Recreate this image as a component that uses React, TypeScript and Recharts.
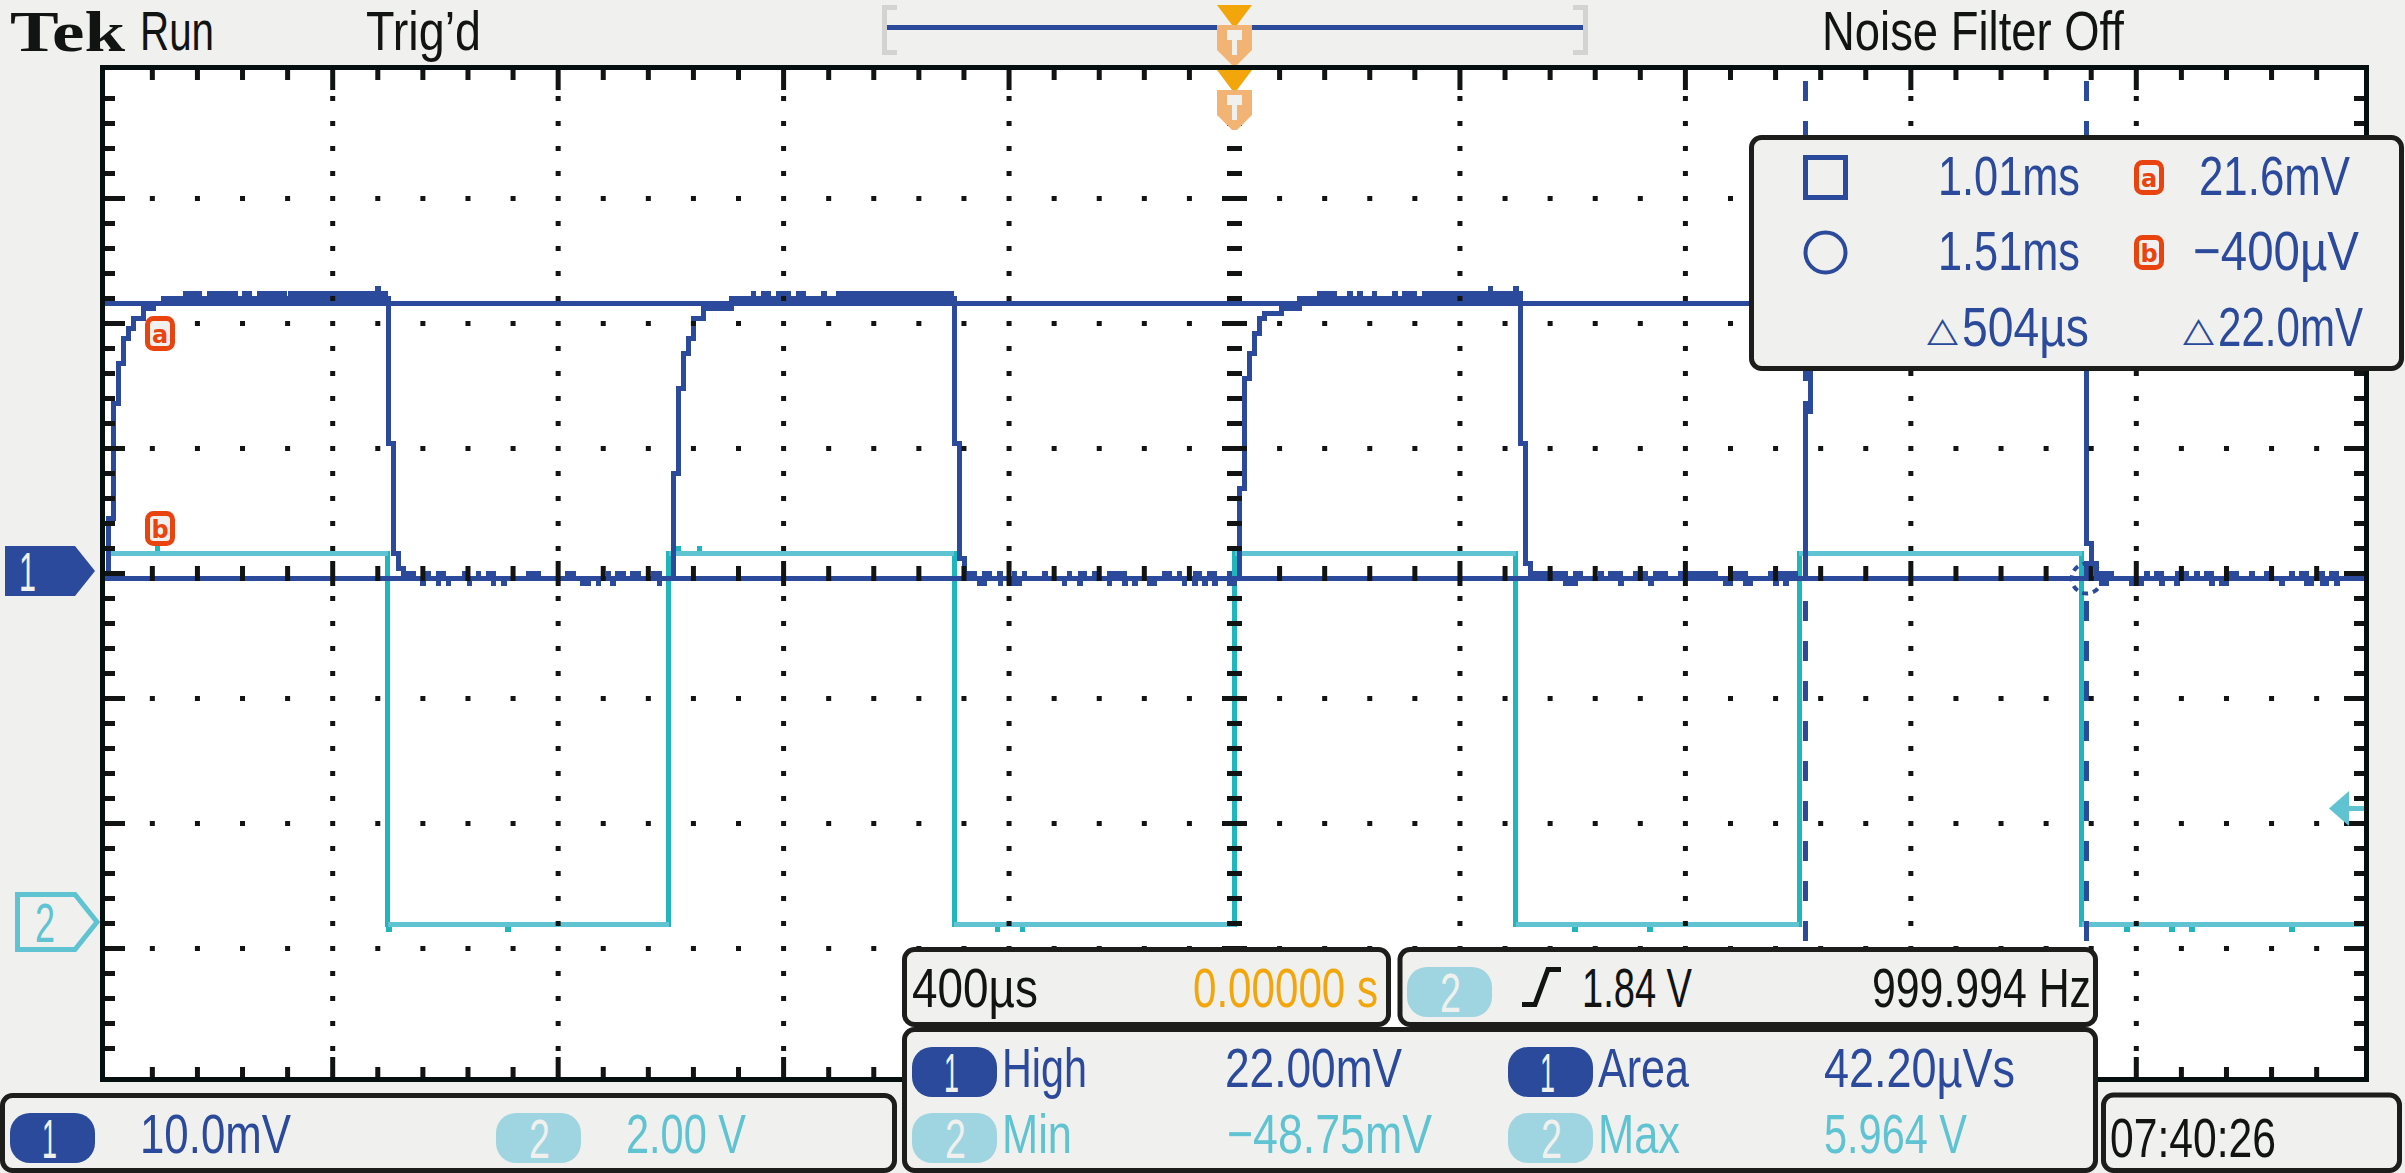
import { ComposedChart, Line, Scatter, XAxis, YAxis, CartesianGrid, ReferenceLine, ReferenceDot } from 'recharts'

const W = 2405
const H = 1173
const LEFT = 105
const RIGHT = 2364
const TOP = 70
const BOTTOM = 1077

const BG = '#f0f0ee'
const INK = '#111412'
const FRAME = '#050f0f'
const BLUE = '#2b4a9b'
const CYAN = '#5fc3d2'
const TEAL = '#1fb6bd'
const PALE = '#9fd5e0'
const RED = '#e9430f'
const ORANGE = '#f2a60c'
const PEACH = '#f2b475'
const NARROW = '"Liberation Sans Narrow", "Liberation Sans", sans-serif'

// 400 us/div and 10 mV/div, trigger in the middle of the screen
const timeDivs = [-2000, -1600, -1200, -800, -400, 0, 400, 800, 1200, 1600, 2000]
const mvDivs = [-40, -30, -20, -10, 0, 10, 20, 30, 40]
const timeDomain = [-2004, 2004]
const mvDomain = [-40.28, 40.28]
const voltDomain = [-2.44, 13.672]

const timeMinor = timeDivs.slice(0, -1).flatMap((t) => [t, t + 80, t + 160, t + 240, t + 320]).filter((t) => t !== -2000)
const mvMinor = mvDivs.slice(0, -1).flatMap((v) => [v, v + 2, v + 4, v + 6, v + 8]).filter((v) => v !== -40)

// channel 1, [us, mV]
const ch1Pulse1 = [
  [-2004, -0.4], [-2000, 0], [-1998, 4.4], [-1989, 13.6], [-1980, 16.8], [-1971, 18.8], [-1963, 19.6], [-1954, 20.4],
  [-1936, 21.2], [-1918, 21.6], [-1900, 22], [-1862, 22.4], [-1836, 22], [-1818, 22.4], [-1791, 22], [-1782, 22.4],
  [-1773, 22], [-1756, 22.4], [-1747, 22], [-1729, 22.4], [-1685, 22], [-1674, 22.4], [-1520, 22.8], [-1519, 22.4], [-1506, 22],
]
const ch1Low1 = [
  [-1501, 10.4], [-1492, 1.6], [-1484, 0.4], [-1474, 0], [-1457, -0.4], [-1440, -0.8], [-1439, -0.4], [-1431, 0], [-1430, -0.4],
  [-1413, -0.8], [-1412, 0], [-1403, -0.4], [-1395, -0.8], [-1394, -0.4], [-1367, 0], [-1366, -0.4], [-1358, -0.8], [-1357, -0.4],
  [-1342, 0], [-1341, -0.4], [-1324, 0], [-1315, -0.8], [-1314, -0.4], [-1297, -0.8], [-1296, -0.4], [-1253, 0], [-1235, -0.4],
  [-1183, 0], [-1173, -0.4], [-1156, -0.8], [-1146, -0.4], [-1129, -0.8], [-1128, -0.4], [-1111, 0], [-1110, -0.4], [-1103, -0.8],
  [-1102, -0.4], [-1094, 0], [-1084, -0.4], [-1068, 0], [-1058, -0.4], [-1031, 0], [-1021, -0.8], [-1020, -0.4],
]
const ch1Pulse2 = [
  [-996, 8], [-987, 14.8], [-978, 17.6], [-969, 18.8], [-960, 20.4], [-942, 21.2], [-893, 22], [-854, 22.4],
  [-853, 22], [-836, 22.4], [-827, 22], [-809, 22.4], [-791, 22], [-774, 22.4], [-765, 22], [-729, 22.4], [-728, 22], [-703, 22.4], [-502, 22],
]
const ch1Low2 = [
  [-497, 10.4], [-488, 1.2], [-479, 0], [-461, -0.4], [-452, -0.8], [-444, 0], [-435, -0.4], [-417, 0], [-416, -0.8], [-415, -0.4],
  [-399, -0.8], [-391, 0], [-390, -0.8], [-382, -0.4], [-373, 0], [-372, -0.4], [-337, 0], [-336, -0.4], [-302, -0.8], [-301, -0.4],
  [-293, 0], [-292, -0.4], [-275, -0.8], [-274, 0], [-266, -0.4], [-248, 0], [-247, -0.4], [-222, -0.8], [-221, 0], [-195, -0.8],
  [-194, -0.4], [-177, -0.8], [-176, -0.4], [-151, -0.8], [-142, -0.4], [-124, 0], [-115, -0.4], [-98, 0], [-97, -0.4], [-89, -0.8],
  [-88, -0.4], [-71, -0.8], [-70, 0], [-62, -0.4], [-53, -0.8], [-52, -0.4], [-44, 0], [-35, -0.8], [-34, -0.4], [-9, 0], [-8, -0.8], [0, -0.4],
]
const ch1Pulse3 = [
  [9, 6.8], [18, 15.6], [27, 17.6], [35, 19.2], [44, 20.4], [53, 20.8], [84, 21.2], [115, 22], [116, 21.6], [133, 22], [151, 22.4],
  [177, 22], [204, 22.4], [205, 22], [222, 22.4], [223, 22], [248, 22.4], [249, 22], [284, 22.4], [285, 22], [302, 22.4], [319, 22],
  [337, 22.4], [454, 22.8], [455, 22.4], [499, 22.8], [500, 22.4],
]
const ch1Low3 = [
  [507, 10.4], [516, 0.8], [525, 0], [587, -0.8], [605, 0], [614, -0.4], [650, 0], [651, -0.4], [667, 0], [685, -0.8], [686, -0.4],
  [712, 0], [729, -0.4], [738, -0.8], [739, -0.4], [747, 0], [765, -0.4], [791, 0], [854, -0.4], [871, -0.8], [880, 0], [907, -0.8],
  [916, -0.4], [951, 0], [960, -0.8], [961, 0], [978, -0.8], [979, 0], [995, -0.4],
]
const ch1Pulse4 = [[1013, 13], [1022, 16.6], [1031, 18.4], [1040, 20], [1058, 20.8], [1100, 21.6], [1140, 22], [1200, 22.4], [1500, 22]]
const ch1Low4 = [
  [1512, 2.4], [1521, 0.8], [1530, 0], [1538, -0.8], [1547, 0], [1556, -0.4], [1592, -0.8], [1610, -0.4], [1618, 0], [1619, -0.4],
  [1636, 0], [1645, -0.8], [1646, -0.4], [1672, -0.8], [1673, 0], [1689, -0.4], [1707, 0], [1708, -0.4], [1725, 0], [1734, -0.8],
  [1735, -0.4], [1751, -0.8], [1760, -0.4], [1769, 0], [1778, -0.4], [1805, 0], [1806, -0.4], [1831, 0], [1832, -0.4], [1858, -0.8],
  [1859, -0.4], [1876, 0], [1877, -0.4], [1893, 0], [1902, -0.8], [1911, -0.4], [1929, 0], [1930, -0.8], [1938, -0.4], [1947, 0],
  [1956, -0.8], [1957, -0.4], [2004, -0.4],
]
// lower edge of the band along the top of each pulse
const ch1TopFloor = [
  [-1900, 22], [-1503, 22], [-1503, null], [-893, 22], [-499, 22], [-499, null], [115, 22], [509, 22],
]

// channel 2, [us, V]
const ch2Trace = [
  [-1995, 5.936], [-1911, 6.016], [-1910, 5.936], [-1502, 0], [-1501, -0.08], [-1500, 0], [-1289, -0.08], [-1288, 0], [-1004, 5.936],
  [-987, 6.016], [-986, 5.936], [-950, 6.016], [-949, 5.936], [-497, 0], [-421, -0.08], [-420, 0], [-377, -0.08], [-376, 0],
  [0, 5.936], [499, 0], [604, -0.08], [605, 0], [737, -0.08], [738, 0], [1002, 5.936], [1503, 0], [1583, -0.08], [1584, 0],
  [1663, -0.08], [1664, 0], [1698, -0.08], [1699, 0], [1876, -0.08], [1877, 0], [2004, 0],
]
const ch2Plateaus = [
  [-1995, 5.936], [-1502, 5.936], [-1502, null], [-1502, 0], [-1004, 0], [-1004, null], [-1004, 5.936], [-497, 5.936], [-497, null],
  [-497, 0], [0, 0], [0, null], [0, 5.936], [499, 5.936], [499, null], [499, 0], [1002, 0], [1002, null], [1002, 5.936], [1503, 5.936],
  [1503, null], [1503, 0], [2004, 0],
]

const cursorTimes = [1013, 1512]
const cursorMv = [21.6, -0.4]

const rows = (pts: any[]) => pts.map(([t, v]) => ({ t, v }))
const ch1Data = rows([...ch1Pulse1, ...ch1Low1, ...ch1Pulse2, ...ch1Low2, ...ch1Pulse3, ...ch1Low3, ...ch1Pulse4, ...ch1Low4])
const ch1Floor = rows(ch1TopFloor)
const ch2Data = rows(ch2Trace)
const ch2Flat = rows(ch2Plateaus)

const isTimeDiv = (t: number) => t % 400 === 0
const isMvDiv = (v: number) => v % 10 === 0

const gridDots = [
  ...timeDivs.filter((t) => Math.abs(t) !== 2000 && t !== 0).flatMap((t) => mvMinor.filter((v) => v !== 0).map((v) => ({ t, v }))),
  ...mvDivs.filter((v) => Math.abs(v) !== 40 && v !== 0).flatMap((v) => timeMinor.filter((t) => !isTimeDiv(t)).map((t) => ({ t, v }))),
]
const centerRow = timeMinor.filter((t) => t !== 0).map((t) => ({ t, v: 0 }))
const centerCol = mvMinor.filter((v) => v !== 0).map((v) => ({ t: 0, v }))

const Dot = ({ cx, cy }: any) => <rect x={cx - 2.5} y={cy - 2.5} width={5} height={5} fill={INK} />
const RowTick = ({ cx, cy, payload }: any) => {
  const h = isTimeDiv(payload.t) ? 25 : 15
  return <rect x={cx - 2.5} y={cy - h / 2} width={5} height={h} fill={INK} />
}
const ColTick = ({ cx, cy, payload }: any) => {
  const w = isMvDiv(payload.v) ? 25 : 15
  return <rect x={cx - w / 2} y={cy - 2.5} width={w} height={5} fill={INK} />
}
const TopTick = ({ x, payload }: any) => <rect x={x - 2.5} y={TOP} width={5} height={isTimeDiv(payload.value) ? 20 : 10} fill={INK} />
const BottomTick = ({ x, payload }: any) => {
  const h = isTimeDiv(payload.value) ? 20 : 10
  return <rect x={x - 2.5} y={BOTTOM - h} width={5} height={h} fill={INK} />
}
const LeftTick = ({ y, payload }: any) => <rect x={LEFT} y={y - 2.5} width={isMvDiv(payload.value) ? 20 : 10} height={5} fill={INK} />
const RightTick = ({ y, payload }: any) => {
  const w = isMvDiv(payload.value) ? 20 : 10
  return <rect x={RIGHT - w} y={y - 2.5} width={w} height={5} fill={INK} />
}

const T = ({ x0, x1, y, fill = INK, size = 56, font = NARROW, weight = 'normal', children }: any) => (
  <text x={x0} y={y} textLength={x1 - x0} lengthAdjust="spacingAndGlyphs" fontFamily={font} fontSize={size} fontWeight={weight} fill={fill}>
    {children}
  </text>
)

const Panel = ({ x, y, w, h }: any) => <rect x={x} y={y} width={w} height={h} rx={10} fill={BG} stroke="#1d1d1b" strokeWidth={5} />

const Badge = ({ x, y, ch }: any) => (
  <g>
    <rect x={x} y={y} width={85} height={50} rx={20} fill={ch === 1 ? BLUE : PALE} />
    <T x0={ch === 1 ? x + 32 : x + 33} x1={ch === 1 ? x + 47 : x + 54} y={y + 45} fill={BG}>{ch}</T>
  </g>
)

const Trigger = ({ y }: any) => (
  <g>
    <polygon points={`1217,${y} 1252,${y} 1237,${y + 20} 1232,${y + 20}`} fill={ORANGE} />
    <polygon points={`1217,${y + 20} 1252,${y + 20} 1252,${y + 45} 1237,${y + 60} 1232,${y + 60} 1217,${y + 45}`} fill={PEACH} />
    <rect x={1227} y={y + 25} width={15} height={10} fill={BG} />
    <rect x={1232} y={y + 35} width={5} height={15} fill={BG} />
  </g>
)

const CursorTag = ({ x, y, letter }: any) => (
  <g>
    <rect x={x + 2.5} y={y + 2.5} width={25} height={30} rx={6} fill={BG} stroke={RED} strokeWidth={5} />
    <text x={x + 15} y={y + 27} textAnchor="middle" fontFamily="DejaVu Sans" fontWeight="bold" fontSize={24} fill={RED}>{letter}</text>
  </g>
)

const Delta = ({ x0, x1, y }: any) => <T x0={x0} x1={x1} y={y} fill={BLUE} size={34} font="DejaVu Sans">△</T>

function Overlay() {
  return (
    <svg width={W} height={H} style={{ position: 'absolute', left: 0, top: 0, pointerEvents: 'none' }}>
      <rect x={LEFT - 2.5} y={TOP - 2.5} width={RIGHT - LEFT + 5} height={BOTTOM - TOP + 5} fill="none" stroke={FRAME} strokeWidth={5} />

      {/* status bar */}
      <T x0={10} x1={125} y={51} size={57} font='"Liberation Serif", serif' weight="bold">Tek</T>
      <T x0={140} x1={214} y={50}>Run</T>
      <T x0={366} x1={481} y={50}>Trig’d</T>
      <T x0={1822} x1={2124} y={50}>Noise Filter Off</T>
      <path d="M897 7.5 H884.5 V52.5 H897" fill="none" stroke="#d3d3d1" strokeWidth={5} />
      <path d="M1573 7.5 H1585.5 V52.5 H1573" fill="none" stroke="#d3d3d1" strokeWidth={5} />
      <rect x={887} y={25} width={696} height={5} fill={BLUE} />
      <Trigger y={5} />
      <Trigger y={70} />

      {/* channel and level markers */}
      <polygon points="5,546 75,546 95,571 75,596 5,596" fill={BLUE} />
      <T x0={19} x1={36} y={591} fill={BG}>1</T>
      <polygon points="17.5,894.5 75,894.5 97,922 75,949.5 17.5,949.5" fill="none" stroke={CYAN} strokeWidth={5} />
      <T x0={35} x1={55} y={942} fill={CYAN}>2</T>
      <polygon points="2329,808.5 2349,791 2349,826" fill={CYAN} />
      <rect x={2349} y={806} width={15} height={5} fill={CYAN} />
      <CursorTag x={145} y={316} letter="a" />
      <CursorTag x={145} y={511} letter="b" />

      {/* cursor readout */}
      <Panel x={1751.5} y={137.5} w={650} h={231} />
      <rect x={1805.5} y={157.5} width={40} height={40} fill="none" stroke={BLUE} strokeWidth={5} />
      <circle cx={1825.5} cy={252.5} r={20} fill="none" stroke={BLUE} strokeWidth={4} />
      <T x0={1938} x1={2080} y={195} fill={BLUE}>1.01ms</T>
      <T x0={1938} x1={2080} y={270} fill={BLUE}>1.51ms</T>
      <T x0={2199} x1={2350} y={195} fill={BLUE}>21.6mV</T>
      <T x0={2193} x1={2359} y={270} fill={BLUE}>−400µV</T>
      <CursorTag x={2134} y={160} letter="a" />
      <CursorTag x={2134} y={235} letter="b" />
      <Delta x0={1927} x1={1958} y={341} />
      <T x0={1962} x1={2089} y={346} fill={BLUE}>504µs</T>
      <Delta x0={2183} x1={2214} y={341} />
      <T x0={2218} x1={2363} y={346} fill={BLUE}>22.0mV</T>

      {/* vertical scale readout */}
      <Panel x={2.5} y={1095.5} w={892} h={75} />
      <Badge x={10} y={1113} ch={1} />
      <T x0={140} x1={291} y={1153} fill={BLUE}>10.0mV</T>
      <Badge x={496} y={1113} ch={2} />
      <T x0={626} x1={746} y={1153} fill={CYAN}>2.00 V</T>

      {/* horizontal scale and trigger readout */}
      <Panel x={904.5} y={949.5} w={484} h={75} />
      <T x0={912} x1={1038} y={1007}>400µs</T>
      <T x0={1193} x1={1378} y={1007} fill={ORANGE}>0.00000 s</T>
      <Panel x={1400} y={949.5} w={695.5} h={75} />
      <Badge x={1407} y={967} ch={2} />
      <path d="M1522 1004.5 H1535 L1548 969.5 H1561" fill="none" stroke={INK} strokeWidth={5} />
      <T x0={1582} x1={1692} y={1007}>1.84 V</T>
      <T x0={1872} x1={2091} y={1007}>999.994 Hz</T>

      {/* measurements */}
      <Panel x={904.5} y={1029.5} w={1191} h={141} />
      <Badge x={912} y={1047} ch={1} />
      <T x0={1002} x1={1087} y={1087} fill={BLUE}>High</T>
      <T x0={1225} x1={1402} y={1087} fill={BLUE}>22.00mV</T>
      <Badge x={1508} y={1047} ch={1} />
      <T x0={1598} x1={1689} y={1087} fill={BLUE}>Area</T>
      <T x0={1824} x1={2015} y={1087} fill={BLUE}>42.20µVs</T>
      <Badge x={912} y={1113} ch={2} />
      <T x0={1002} x1={1072} y={1153} fill={CYAN}>Min</T>
      <T x0={1227} x1={1432} y={1153} fill={CYAN}>−48.75mV</T>
      <Badge x={1508} y={1113} ch={2} />
      <T x0={1598} x1={1680} y={1153} fill={CYAN}>Max</T>
      <T x0={1824} x1={1967} y={1153} fill={CYAN}>5.964 V</T>

      {/* clock */}
      <Panel x={2103.5} y={1095} w={296} h={75.5} />
      <T x0={2110} x1={2276} y={1157}>07:40:26</T>
    </svg>
  )
}

export default function App() {
  return (
    <div style={{ position: 'absolute', left: 0, top: 0, width: W, height: H, background: BG, overflow: 'hidden' }}>
      <ComposedChart width={W} height={H} margin={{ top: TOP, left: LEFT, right: W - RIGHT, bottom: H - BOTTOM }}>
        <CartesianGrid fill="#ffffff" horizontal={false} vertical={false} />
        <XAxis xAxisId="t" dataKey="t" type="number" domain={timeDomain} allowDataOverflow mirror orientation="bottom" ticks={timeMinor} interval={0} axisLine={false} tickLine={false} tick={BottomTick} />
        <XAxis xAxisId="top" dataKey="t" type="number" domain={timeDomain} allowDataOverflow mirror orientation="top" ticks={timeMinor} interval={0} axisLine={false} tickLine={false} tick={TopTick} />
        <YAxis yAxisId="mv" dataKey="v" type="number" domain={mvDomain} allowDataOverflow mirror orientation="left" ticks={mvMinor} interval={0} axisLine={false} tickLine={false} tick={LeftTick} />
        <YAxis yAxisId="right" dataKey="v" type="number" domain={mvDomain} allowDataOverflow mirror orientation="right" ticks={mvMinor} interval={0} axisLine={false} tickLine={false} tick={RightTick} />
        <YAxis yAxisId="volt" dataKey="v" type="number" domain={voltDomain} allowDataOverflow hide />

        <Line xAxisId="t" yAxisId="volt" data={ch2Data} dataKey="v" type="stepAfter" stroke={TEAL} strokeWidth={5} dot={false} isAnimationActive={false} shapeRendering="crispEdges" />
        <Line xAxisId="t" yAxisId="volt" data={ch2Flat} dataKey="v" type="linear" stroke={CYAN} strokeWidth={5} dot={false} isAnimationActive={false} shapeRendering="crispEdges" />
        <Line xAxisId="t" yAxisId="mv" data={ch1Data} dataKey="v" type="stepAfter" stroke={BLUE} strokeWidth={5} dot={false} isAnimationActive={false} shapeRendering="crispEdges" />
        <Line xAxisId="t" yAxisId="mv" data={ch1Floor} dataKey="v" type="linear" stroke={BLUE} strokeWidth={5} dot={false} isAnimationActive={false} shapeRendering="crispEdges" />

        <Scatter xAxisId="t" yAxisId="mv" data={gridDots} dataKey="v" shape={Dot} isAnimationActive={false} />
        <Scatter xAxisId="t" yAxisId="mv" data={centerRow} dataKey="v" shape={RowTick} isAnimationActive={false} />
        <Scatter xAxisId="t" yAxisId="mv" data={centerCol} dataKey="v" shape={ColTick} isAnimationActive={false} />

        {cursorMv.map((v) => (
          <ReferenceLine key={v} xAxisId="t" yAxisId="mv" y={v} stroke={BLUE} strokeWidth={5} shapeRendering="crispEdges" />
        ))}
        {cursorTimes.map((t) => (
          <ReferenceLine
            key={t}
            xAxisId="t"
            yAxisId="mv"
            segment={[{ x: t, y: 39.4 }, { x: t, y: -40 }]}
            stroke={BLUE}
            strokeWidth={5}
            strokeDasharray="20 20"
            shapeRendering="crispEdges"
          />
        ))}
        <ReferenceDot xAxisId="t" yAxisId="mv" x={cursorTimes[1]} y={cursorMv[1]} r={15} fill="none" stroke={BLUE} strokeWidth={4} strokeDasharray="6 5" />
      </ComposedChart>
      <Overlay />
    </div>
  )
}
